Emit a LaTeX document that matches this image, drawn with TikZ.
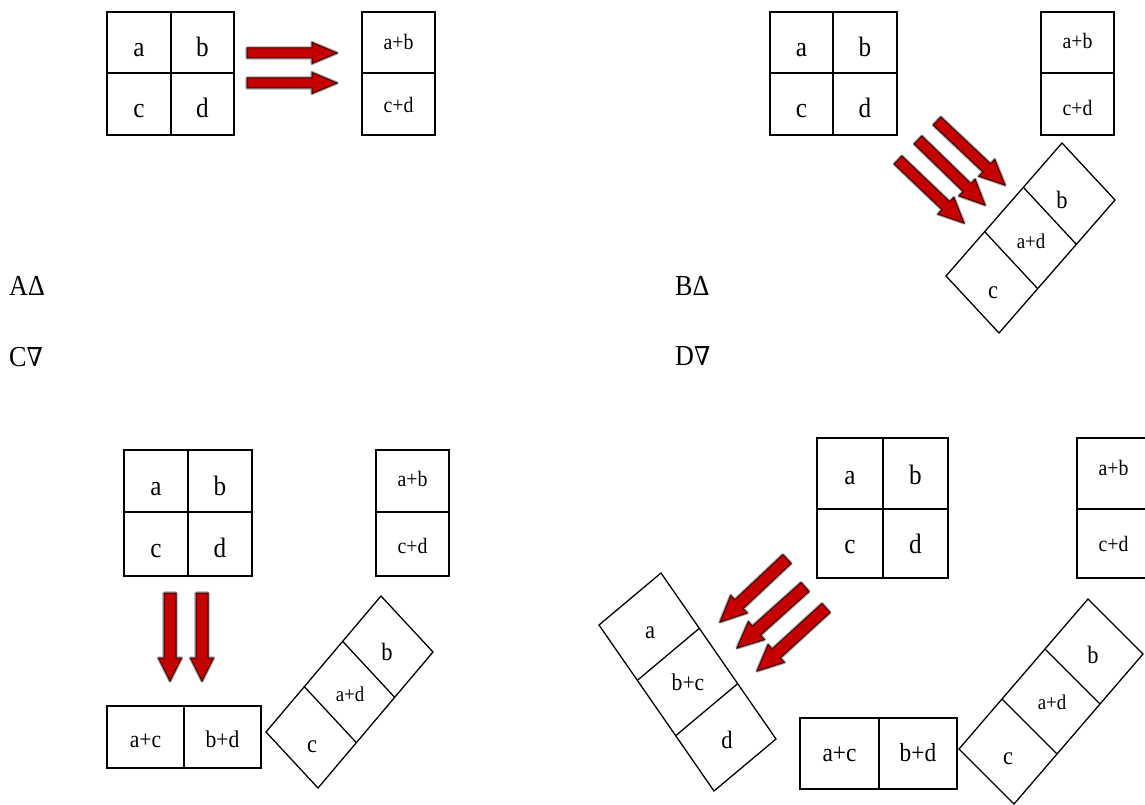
\documentclass[tikz,border=0pt]{standalone}
\usepackage{fontspec}
\setmainfont[FakeStretch=0.9]{Liberation Serif}
\newfontfamily\nablafont[FakeStretch=0.9]{DejaVu Serif}
\usetikzlibrary{calc}

\definecolor{arrowred}{RGB}{196,0,0}
\definecolor{arrowedge}{RGB}{70,0,0}
\newcommand\fsz[1]{\fontsize{#1}{#1}\selectfont}

\tikzset{
  box/.style={draw=black, line width=1.6pt, inner sep=0pt, outer sep=0pt},
  gl/.style={font=\fsz{28}},
  sl/.style={font=\fsz{22}},
  rowC/.style={font=\fsz{24}},
  rowD/.style={font=\fsz{26}},
  strip/.style={draw=black, line width=1.3pt, line join=miter},
  stxt/.style={anchor=base, inner sep=0pt, font=\fsz{25}},
  stsum/.style={anchor=base, inner sep=0pt, font=\fsz{21}},
  panel/.style={anchor=base west, inner sep=0pt, font=\fsz{29}},
  arrowhalo/.style={draw=black!35, line width=3.2pt, line join=round},
  arrowbody/.style={fill=arrowred, draw=arrowedge, line width=1pt, line join=miter},
}

% one cell: [style] name, x1, y1, x2, y2, text height (twice the baseline drop), text
\newcommand\cell[8][]{%
  \node[box, #1, minimum width={(#5-#3)*1pt}, minimum height={(#6-#4)*1pt},
        text height=#7pt, text depth=0pt] (#2) at ({(#3+#5)/2},{(#4+#6)/2}) {#8};}

% outline of a block arrow: tail, tip, shaft half-width, head half-width, head length
\newcommand\arrowshape[5]{%
  ($(#1)!#3!90:(#2)$) -- ($(#2)!#5!(#1)!#3!-90:(#1)$) -- ($(#2)!#5!(#1)!#4!-90:(#1)$)
  -- (#2) -- ($(#2)!#5!(#1)!#4!90:(#1)$) -- ($(#2)!#5!(#1)!#3!90:(#1)$)
  -- ($(#1)!#3!-90:(#2)$) -- cycle}
\newcommand\blockarrow[5]{%
  \path[arrowhalo] \arrowshape{#1}{#2}{#3}{#4}{#5};
  \path[arrowbody] \arrowshape{#1}{#2}{#3}{#4}{#5};}

% tilted strip of three cells: name, first corner, far corner on the long side, corner on the short side
\newcommand\stripcells[4]{%
  \coordinate (#1-0) at (#2);
  \coordinate (#1-3) at (#3);
  \coordinate (#1-s0) at (#4);
  \coordinate (#1-s3) at ($(#1-3)+(#1-s0)-(#1-0)$);
  \draw[strip] (#1-0) -- (#1-s0) -- (#1-s3) -- (#1-3) -- cycle;
  \draw[strip] ($(#1-0)!1/3!(#1-3)$) -- ($(#1-s0)!1/3!(#1-s3)$);
  \draw[strip] ($(#1-0)!2/3!(#1-3)$) -- ($(#1-s0)!2/3!(#1-s3)$);}

\begin{document}
\begin{tikzpicture}[x=1pt, y=-1pt]
\fill[white] (0,0) rectangle (1145,805);
\useasboundingbox (0,0) rectangle (1145,805);
\clip (0,0) rectangle (1145,805);

% ---------- A ----------
\cell[gl]{Aa}{107}{12}{171}{73}{28}{a}
\cell[gl]{Ab}{171}{12}{234}{73}{28}{b}
\cell[gl]{Ac}{107}{73}{171}{135}{28}{c}
\cell[gl]{Ad}{171}{73}{234}{135}{28}{d}
\cell[sl]{Aab}{362}{12}{435}{73}{15}{a+b}
\cell[sl]{Acd}{362}{73}{435}{135}{18}{c+d}
\coordinate (At1) at (247,53);  \coordinate (Ap1) at (337,53);
\coordinate (At2) at (247,83);  \coordinate (Ap2) at (337,83);
\blockarrow{At1}{Ap1}{5pt}{10.5pt}{25pt}
\blockarrow{At2}{Ap2}{5pt}{10.5pt}{25pt}

% ---------- B ----------
\cell[gl]{Ba}{770}{12}{833}{73}{28}{a}
\cell[gl]{Bb}{833}{12}{897}{73}{28}{b}
\cell[gl]{Bc}{770}{73}{833}{135}{28}{c}
\cell[gl]{Bd}{833}{73}{897}{135}{28}{d}
\cell[sl]{Bab}{1041}{12}{1114}{73}{12}{a+b}
\cell[sl]{Bcd}{1041}{73}{1114}{135}{24}{c+d}
\stripcells{SB}{1062,143}{946,276}{1115,200}
\node[stxt] (SBb) at (1062,208) {b};
\node[stsum] (SBad) at (1031,248) {a+d};
\node[stxt] (SBc) at (993,298) {c};
\coordinate (Bt1) at (937,121); \coordinate (Bp1) at (1005,185);
\coordinate (Bt2) at (918,140); \coordinate (Bp2) at (985,205);
\coordinate (Bt3) at (898,160); \coordinate (Bp3) at (964,223);
\blockarrow{Bt1}{Bp1}{5.5pt}{11.5pt}{25pt}
\blockarrow{Bt2}{Bp2}{5.5pt}{11.5pt}{25pt}
\blockarrow{Bt3}{Bp3}{5.5pt}{11.5pt}{25pt}

% ---------- panel names ----------
\node[panel] (lA) at (9,295) {AΔ};
\node[panel] (lC) at (9,366) {C{\nablafont\fsz{26}∇}};
\node[panel] (lB) at (675,295) {BΔ};
\node[panel] (lD) at (675,365) {D{\nablafont\fsz{26}∇}};

% ---------- C ----------
\cell[gl]{Ca}{124}{450}{188}{512}{28}{a}
\cell[gl]{Cb}{188}{450}{252}{512}{28}{b}
\cell[gl]{Cc}{124}{512}{188}{576}{27}{c}
\cell[gl]{Cd}{188}{512}{252}{576}{27}{d}
\cell[sl]{Cab}{376}{450}{449}{512}{10}{a+b}
\cell[sl]{Ccd}{376}{512}{449}{576}{18}{c+d}
\coordinate (Ct1) at (170,593); \coordinate (Cp1) at (170,681);
\coordinate (Ct2) at (202,593); \coordinate (Cp2) at (202,681);
\blockarrow{Ct1}{Cp1}{6pt}{11.5pt}{23pt}
\blockarrow{Ct2}{Cp2}{6pt}{11.5pt}{23pt}
\cell[rowC]{Cac}{107}{706}{184}{768}{21}{a+c}
\cell[rowC]{Cbd}{184}{706}{261}{768}{21}{b+d}
\stripcells{SC}{381,596}{266,732}{433,652}
\node[stxt] (SCb) at (387,660) {b};
\node[stsum] (SCad) at (350,701) {a+d};
\node[stxt] (SCc) at (312,752) {c};

% ---------- D ----------
\cell[gl]{Da}{817}{438}{883}{509}{21}{a}
\cell[gl]{Db}{883}{438}{948}{509}{21}{b}
\cell[gl]{Dc}{817}{509}{883}{578}{20}{c}
\cell[gl]{Dd}{883}{509}{948}{578}{20}{d}
\cell[sl]{Dab}{1077}{438}{1150}{509}{3}{a+b}
\cell[sl]{Dcd}{1077}{509}{1150}{578}{16}{c+d}
\cell[rowD]{Dac}{800}{718}{879}{789}{16}{a+c}
\cell[rowD]{Dbd}{879}{718}{957}{789}{16}{b+d}
\stripcells{SD}{1088,599}{959,749}{1143,654}
\node[stxt] (SDb) at (1093,663) {b};
\node[stsum] (SDad) at (1052,709) {a+d};
\node[stxt] (SDc) at (1008,764) {c};
\stripcells{SE}{661,573}{776,739}{599,625}
\node[stxt] (SEa) at (650,638) {a};
\node[stxt, font=\fsz{24}] (SEbc) at (688,690) {b+c};
\node[stxt] (SEd) at (727,748) {d};
\coordinate (Dt1) at (787,559); \coordinate (Dp1) at (720,622);
\coordinate (Dt2) at (805,587); \coordinate (Dp2) at (737,648);
\coordinate (Dt3) at (826,608); \coordinate (Dp3) at (757,671);
\blockarrow{Dt1}{Dp1}{6pt}{12pt}{26pt}
\blockarrow{Dt2}{Dp2}{6pt}{12pt}{26pt}
\blockarrow{Dt3}{Dp3}{6pt}{12pt}{26pt}
\end{tikzpicture}
\end{document}
